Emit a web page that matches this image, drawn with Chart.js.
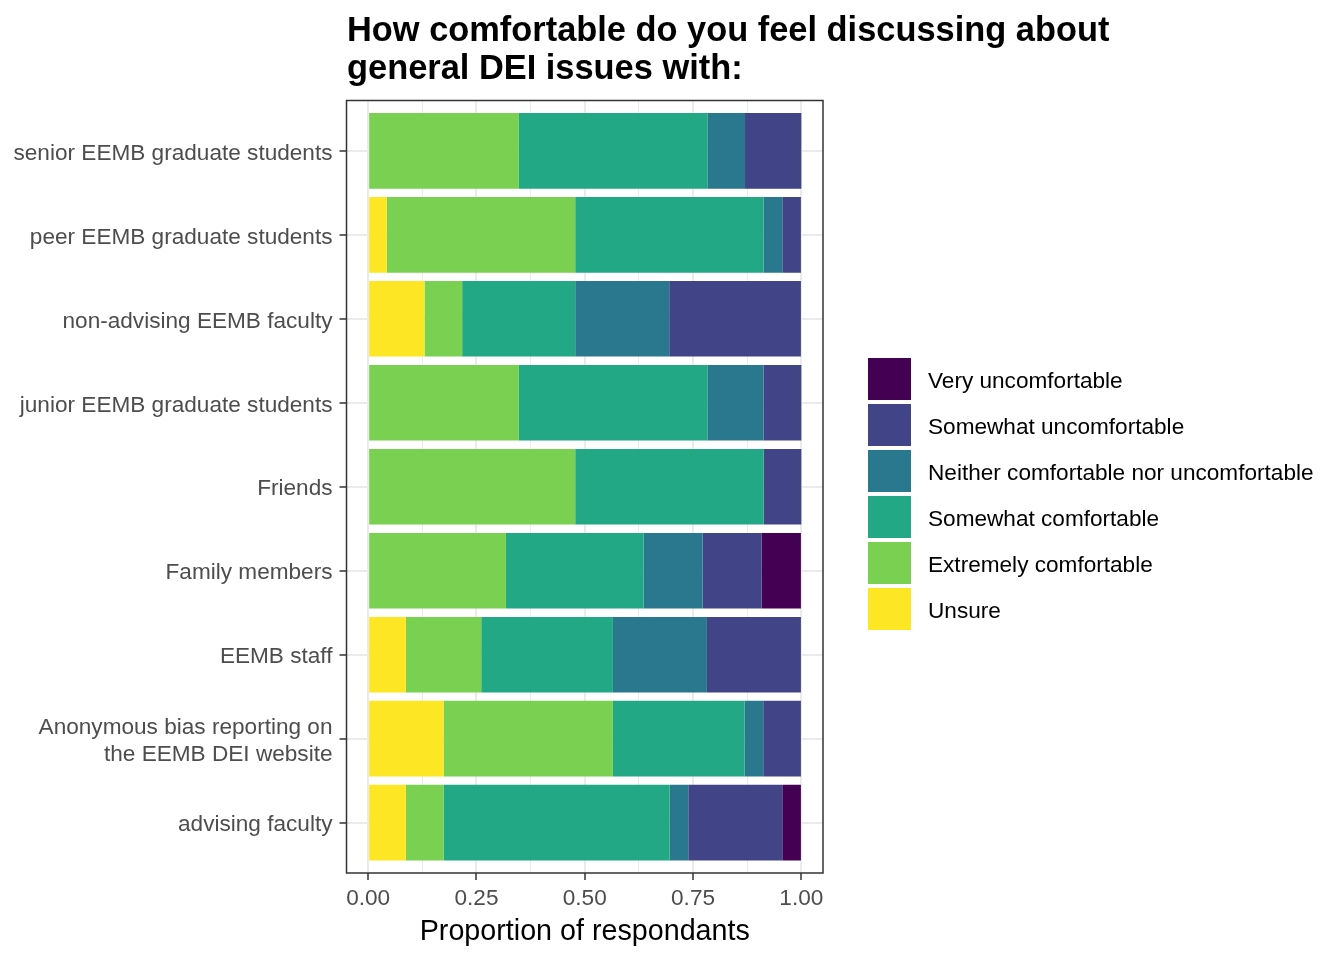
<!DOCTYPE html>
<html>
<head>
<meta charset="utf-8">
<script src="https://cdn.jsdelivr.net/npm/chart.js@4.4.0/dist/chart.umd.min.js"></script>
<style>
  html, body { margin: 0; padding: 0; background: #fff; }
  #wrap { position: relative; width: 1344px; height: 960px; font-family: 'Liberation Sans', Arial, sans-serif; }
  #title { position: absolute; left: 347px; top: 10px; margin: 0; font-size: 34.4px; line-height: 38px; font-weight: bold; color: #000; }
  #legend { position: absolute; left: 868px; top: 356px; }
  .item { display: flex; align-items: center; height: 46px; }
  .key { width: 43px; height: 42px; }
  .label { margin-left: 17px; font-size: 22.6px; color: #000; position: relative; top: 2px; white-space: nowrap; }
  canvas { position: absolute; left: 0; top: 0; }
</style>
</head>
<body>
<div id="wrap">
  <canvas id="chart" width="1344" height="960"></canvas>
  <div id="title">How comfortable do you feel discussing about<br>general DEI issues with:</div>
  <div id="legend"></div>
</div>
<script>
// categories, top to bottom
const categories = [
  'senior EEMB graduate students',
  'peer EEMB graduate students',
  'non-advising EEMB faculty',
  'junior EEMB graduate students',
  'Friends',
  'Family members',
  'EEMB staff',
  ['Anonymous bias reporting on', 'the EEMB DEI website'],
  'advising faculty'
];

// proportion of respondants per answer
const unsure         = [0,     0.043, 0.130, 0,     0,     0,     0.087, 0.174, 0.087];
const extremely      = [0.348, 0.435, 0.087, 0.348, 0.478, 0.318, 0.174, 0.391, 0.087];
const somewhatComf   = [0.435, 0.435, 0.261, 0.435, 0.435, 0.318, 0.304, 0.304, 0.522];
const neither        = [0.087, 0.043, 0.217, 0.130, 0,     0.136, 0.217, 0.043, 0.043];
const somewhatUncomf = [0.130, 0.043, 0.304, 0.087, 0.087, 0.136, 0.217, 0.087, 0.217];
const veryUncomf     = [0,     0,     0,     0,     0,     0.091, 0,     0,     0.043];

// legend order (top to bottom)
const levels = [
  'Very uncomfortable',
  'Somewhat uncomfortable',
  'Neither comfortable nor uncomfortable',
  'Somewhat comfortable',
  'Extremely comfortable',
  'Unsure'
];
const levelColors = ['#440154', '#414487', '#2A788E', '#22A884', '#7AD151', '#FDE725'];
const levelValues = [veryUncomf, somewhatUncomf, neither, somewhatComf, extremely, unsure];

const xMajor = [0, 0.25, 0.5, 0.75, 1];
const xMinor = [0.125, 0.375, 0.625, 0.875];
const xTickLabels = ['0.00', '0.25', '0.50', '0.75', '1.00'];

Chart.defaults.font.family = "'Liberation Sans', Arial, sans-serif";

// stack from the left starts with "Unsure"
const datasets = levels.map((name, k) => ({
  label: name,
  data: levelValues[k].map((v, i) => ({ x: v, y: i })),
  backgroundColor: levelColors[k],
  borderWidth: 0,
  barPercentage: 0.9,
  categoryPercentage: 1.0
})).reverse();

const panelBorder = {
  id: 'panelBorder',
  afterDatasetsDraw(chart) {
    const { ctx, chartArea: a } = chart;
    ctx.save();
    ctx.strokeStyle = '#333333';
    ctx.lineWidth = 1.5;
    ctx.strokeRect(a.left, a.top, a.right - a.left, a.bottom - a.top);
    ctx.restore();
  }
};

new Chart(document.getElementById('chart'), {
  type: 'bar',
  data: { datasets },
  plugins: [panelBorder],
  options: {
    indexAxis: 'y',
    responsive: false,
    animation: false,
    layout: { padding: { left: 0, right: 521, top: 100.5, bottom: 0 } },
    plugins: {
      legend: { display: false },
      tooltip: { enabled: false }
    },
    scales: {
      x: {
        type: 'linear',
        stacked: true,
        min: -0.05,
        max: 1.05,
        afterBuildTicks: s => {
          s.ticks = xMajor.concat(xMinor).sort((a, b) => a - b).map(v => ({ value: v }));
        },
        afterFit: s => { s.height = 87; },
        ticks: {
          autoSkip: false,
          maxRotation: 0,
          padding: 5,
          color: '#4d4d4d',
          font: { size: 22.6 },
          callback: v => {
            const i = xMajor.indexOf(v);
            return i >= 0 ? xTickLabels[i] : '';
          }
        },
        grid: {
          color: '#ebebeb',
          lineWidth: c => (c.tick && xMajor.includes(c.tick.value)) ? 2 : 1,
          tickLength: 7,
          tickWidth: 1.5,
          tickColor: c => (c.tick && xMajor.includes(c.tick.value)) ? '#333333' : 'rgba(0,0,0,0)'
        },
        border: { display: false },
        title: {
          display: true,
          text: 'Proportion of respondants',
          color: '#000',
          font: { size: 28.7 },
          padding: { top: 0, bottom: 11 }
        }
      },
      y: {
        type: 'linear',
        stacked: true,
        reverse: true,
        offset: false,
        min: -0.6,
        max: 8.6,
        afterBuildTicks: s => {
          s.ticks = categories.map((c, i) => ({ value: i }));
        },
        afterFit: s => { s.width = 346.5; },
        ticks: {
          autoSkip: false,
          padding: 7,
          labelOffset: 2.5,
          color: '#4d4d4d',
          font: { size: 22.6 },
          callback: v => categories[v]
        },
        grid: {
          offset: false,
          color: '#ebebeb',
          lineWidth: 2,
          tickLength: 7,
          tickWidth: 1.5,
          tickColor: '#333333'
        },
        border: { display: false }
      }
    }
  }
});

// legend keys
const legend = document.getElementById('legend');
levels.forEach((name, k) => {
  const item = document.createElement('div');
  item.className = 'item';
  const key = document.createElement('div');
  key.className = 'key';
  key.style.background = levelColors[k];
  const label = document.createElement('span');
  label.className = 'label';
  label.textContent = name;
  item.appendChild(key);
  item.appendChild(label);
  legend.appendChild(item);
});
</script>
</body>
</html>
